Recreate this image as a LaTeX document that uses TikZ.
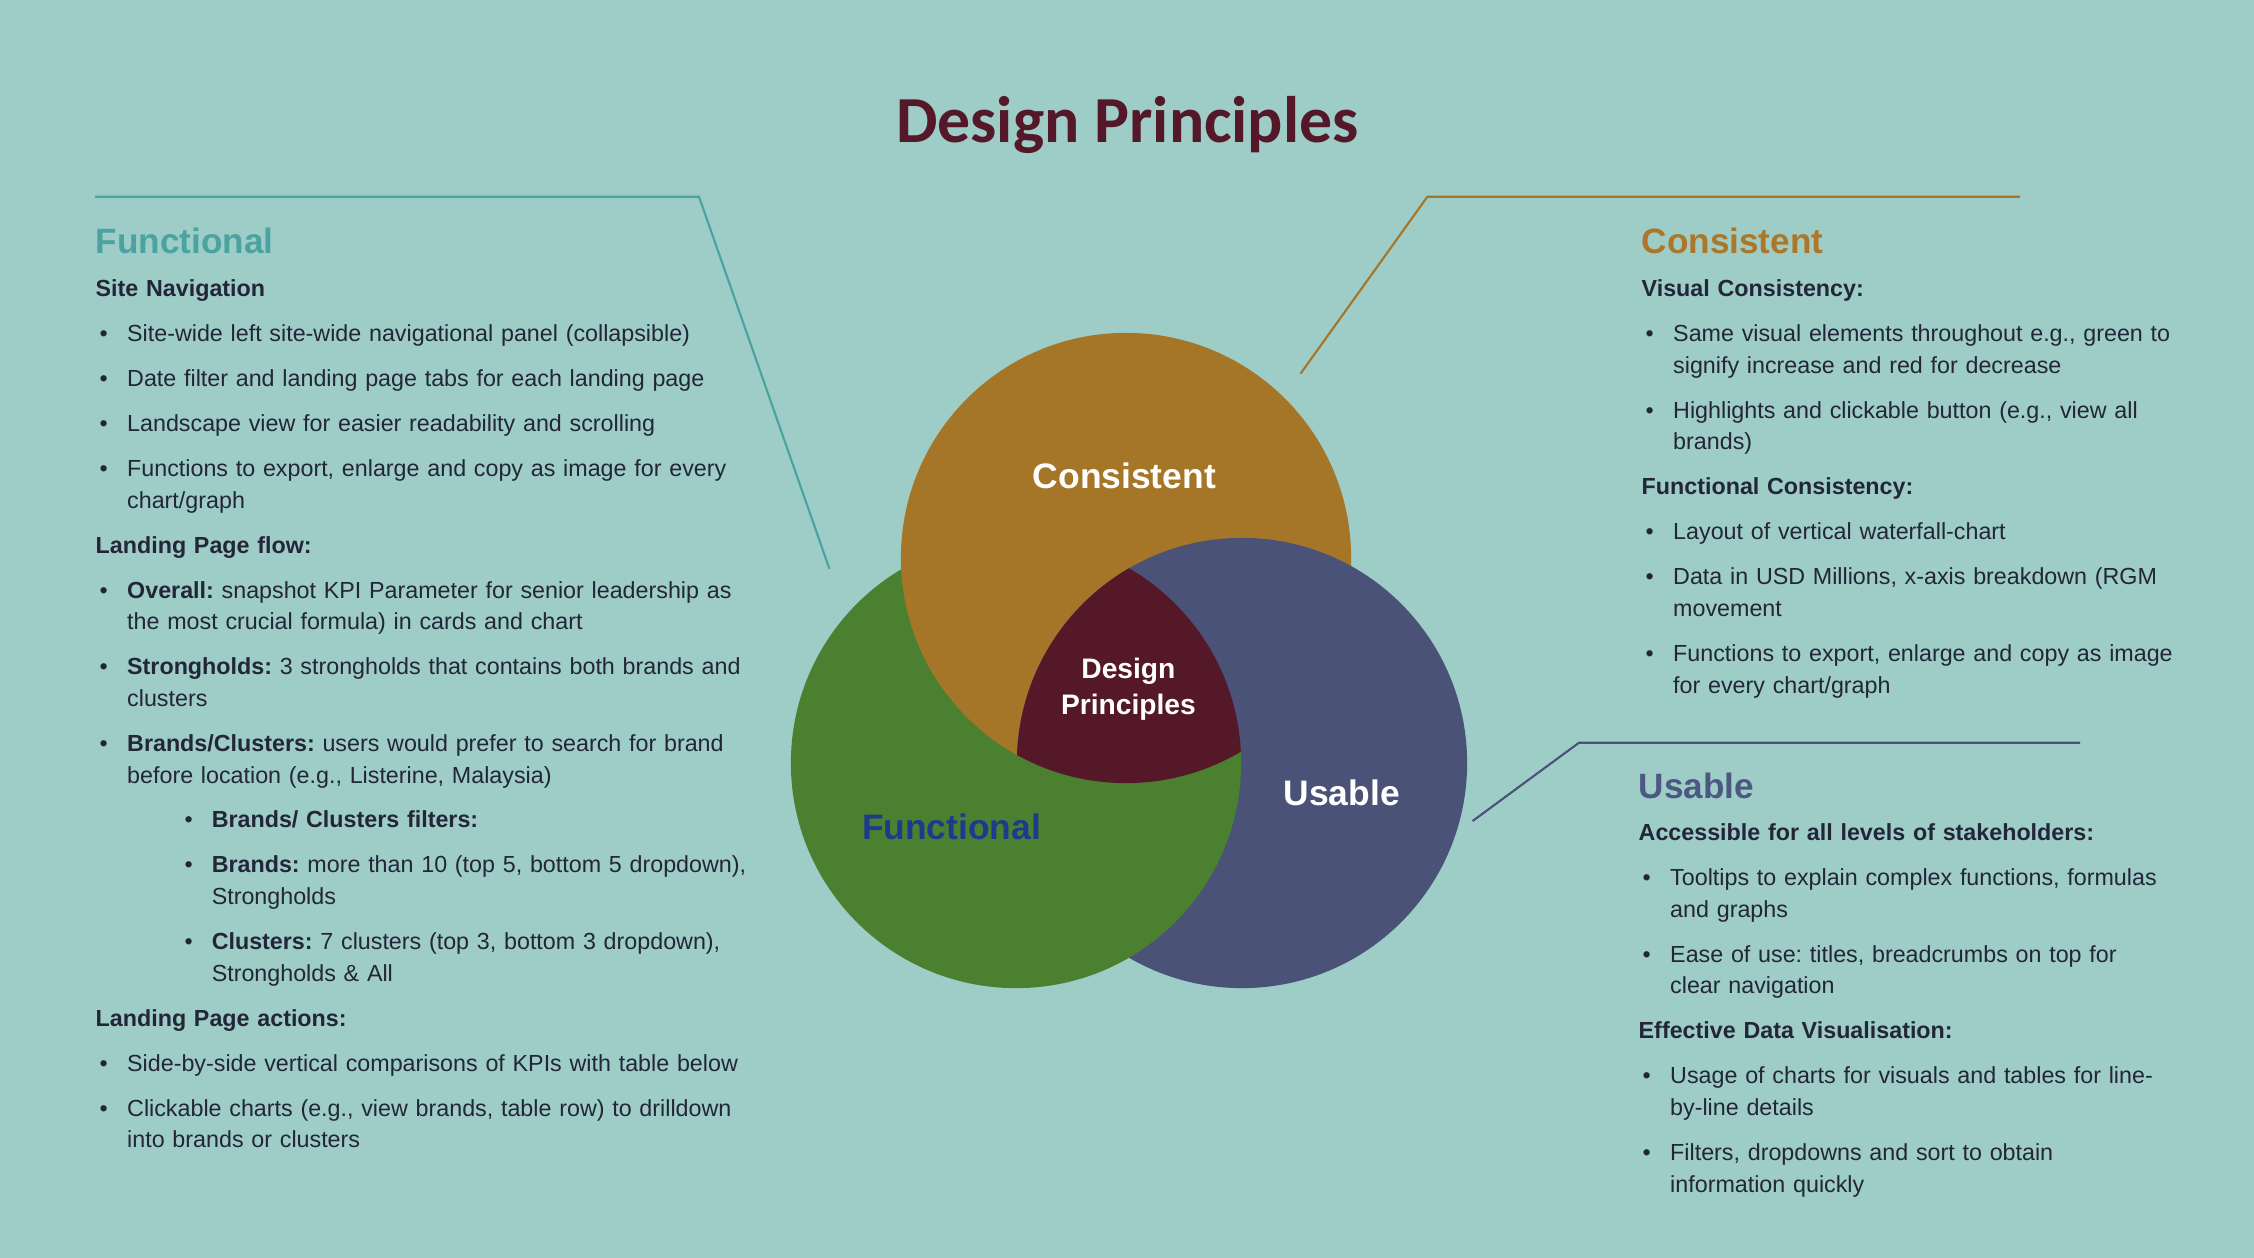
\documentclass[tikz,border=0pt]{standalone}
\usepackage{fontspec}
\setmainfont{Liberation Sans}
\newfontfamily\titlefont{Carlito}
\usepackage{tikz}

\definecolor{bgteal}{HTML}{9ECCC7}
\definecolor{functeal}{HTML}{4AA3A0}
\definecolor{consorange}{HTML}{A67628}
\definecolor{funcgreen}{HTML}{4A8030}
\definecolor{useblue}{HTML}{4A5278}
\definecolor{coremaroon}{HTML}{541828}
\definecolor{bodyink}{HTML}{232638}
\definecolor{labelblue}{HTML}{1E3A8C}
\definecolor{conshead}{HTML}{AD772A}
\definecolor{usehead}{HTML}{4C5782}

% bullet lists inside the text nodes
\newlength{\bulind}
\setlength{\bulind}{8.96pt}
\newcommand{\itemgap}{\par\vskip3.8pt}
\newcommand{\grp}[1]{\itemgap\noindent\textbf{#1}}
\newcommand{\bul}[1]{\itemgap\hangindent=\bulind\hangafter=1\noindent\hbox to \bulind{\hskip1.1pt\textbullet\hfil}#1\par}
\newcommand{\subbul}[1]{\itemgap\hangindent=33pt\hangafter=1\noindent\hbox to 33pt{\hskip25.3pt\textbullet\hfil}#1\par}

\tikzset{
	head/.style = {font=\fontsize{10pt}{12pt}\selectfont\bfseries, inner sep=0pt, anchor=base west},
	body/.style = {font=\fontsize{6.62pt}{8.99pt}\selectfont\frenchspacing, text=bodyink, inner sep=0pt, align=left, anchor=base west},
	vlabel/.style = {font=\fontsize{10.07pt}{12pt}\selectfont\bfseries, inner sep=0pt, anchor=base},
	lead/.style = {line width=0.6pt}
}

\begin{document}
\begin{tikzpicture}[x=0.01cm,y=-0.01cm]
\fill[bgteal] (0,0) rectangle (2254,1258);

\node[font=\titlefont\fontsize{18.7pt}{22pt}\selectfont\bfseries, text=coremaroon, inner sep=0pt, anchor=base] (title) at (1127.5,142.7) {Design Principles};

% venn
\coordinate (ctrCons) at (1126,558);
\coordinate (ctrFunc) at (1016,763);
\coordinate (ctrUse) at (1242,763);
\fill[useblue] (ctrUse) circle[radius=2.25cm];
\fill[funcgreen] (ctrFunc) circle[radius=2.25cm];
\fill[consorange] (ctrCons) circle[radius=2.25cm];
\begin{scope}
	\clip (ctrUse) circle[radius=2.25cm];
	\fill[useblue] (ctrCons) circle[radius=2.265cm];
\end{scope}
\begin{scope}
	\clip (ctrUse) circle[radius=2.25cm];
	\clip (ctrFunc) circle[radius=2.25cm];
	\draw[funcgreen, line width=0.08cm] (ctrCons) circle[radius=2.25cm];
	\fill[coremaroon] (ctrCons) circle[radius=2.25cm];
\end{scope}

\node[vlabel, text=white] (lcons) at (1124.3,489) {Consistent};
\node[vlabel, text=white] (luse) at (1341.7,805.6) {Usable};
\node[vlabel, text=labelblue] (lfunc) at (951.5,839.5) {Functional};
\node[font=\fontsize{8.02pt}{10.39pt}\selectfont\bfseries, text=white, inner sep=0pt, align=center, text width=3cm, anchor=base] (lcore) at (1128.4,678) {Design\\Principles};

% leader lines
\coordinate (funcA) at (95,196.7);
\coordinate (funcB) at (699,196.7);
\coordinate (funcC) at (829.5,569);
\coordinate (consA) at (2020,196.7);
\coordinate (consB) at (1427.4,196.7);
\coordinate (consC) at (1300.5,373.7);
\coordinate (useA) at (2080,742.7);
\coordinate (useB) at (1579,742.7);
\coordinate (useC) at (1472.6,821);
\draw[lead, functeal] (funcA) -- (funcB) -- (funcC);
\draw[lead, consorange] (consA) -- (consB) -- (consC);
\draw[lead, useblue] (useA) -- (useB) -- (useC);

% functional
\node[head, text=functeal] (hfunc) at (95,254) {Functional};
\node[body, text width=7.5cm] (bfunc) at ([yshift=-0.427cm]hfunc.base west) {%
\textbf{Site Navigation}
\bul{Site-wide left site-wide navigational panel (collapsible)}
\bul{Date filter and landing page tabs for each landing page}
\bul{Landscape view for easier readability and scrolling}
\bul{Functions to export, enlarge and copy as image for every\newline chart/graph}
\grp{Landing Page flow:}
\bul{\textbf{Overall:} snapshot KPI Parameter for senior leadership as\newline the most crucial formula) in cards and chart}
\bul{\textbf{Strongholds:} 3 strongholds that contains both brands and\newline clusters}
\bul{\textbf{Brands/Clusters:} users would prefer to search for brand\newline before location (e.g., Listerine, Malaysia)}
\subbul{\textbf{Brands/ Clusters filters:}}
\subbul{\textbf{Brands:} more than 10 (top 5, bottom 5 dropdown),\newline Strongholds}
\subbul{\textbf{Clusters:} 7 clusters (top 3, bottom 3 dropdown),\newline Strongholds \& All}
\grp{Landing Page actions:}
\bul{Side-by-side vertical comparisons of KPIs with table below}
\bul{Clickable charts (e.g., view brands, table row) to drilldown\newline into brands or clusters}};

% consistent
\node[head, text=conshead] (hcons) at (1641,254) {Consistent};
\node[body, text width=6cm] (bcons) at ([yshift=-0.427cm]hcons.base west) {%
\textbf{Visual Consistency:}
\bul{Same visual elements throughout e.g., green to\newline signify increase and red for decrease}
\bul{Highlights and clickable button (e.g., view all\newline brands)}
\grp{Functional Consistency:}
\bul{Layout of vertical waterfall-chart}
\bul{Data in USD Millions, x-axis breakdown (RGM\newline movement}
\bul{Functions to export, enlarge and copy as image\newline for every chart/graph}};

% usable
\node[head, text=usehead] (huse) at (1638,798.5) {Usable};
\node[body, text width=6cm] (buse) at ([yshift=-0.422cm]huse.base west) {%
\textbf{Accessible for all levels of stakeholders:}
\bul{Tooltips to explain complex functions, formulas\newline and graphs}
\bul{Ease of use: titles, breadcrumbs on top for\newline clear navigation}
\grp{Effective Data Visualisation:}
\bul{Usage of charts for visuals and tables for line-\newline by-line details}
\bul{Filters, dropdowns and sort to obtain\newline information quickly}};
\end{tikzpicture}
\end{document}
